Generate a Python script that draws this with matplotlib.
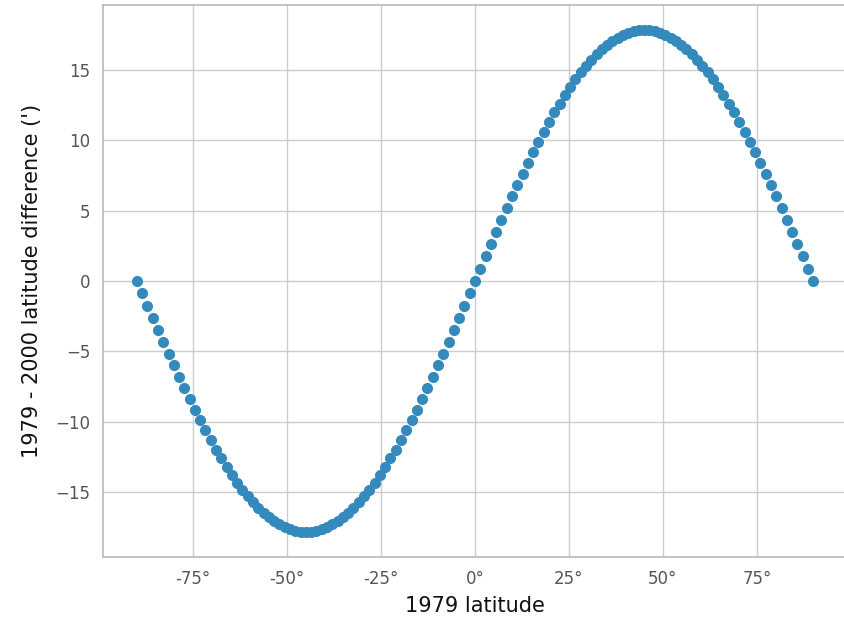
import matplotlib
matplotlib.use("Agg")
import matplotlib.pyplot as plt
from matplotlib.ticker import FuncFormatter

# 1979 latitude (degrees)
lat_neg = [-90, -88.59, -87.19, -85.78, -84.38, -82.97, -81.56, -80.16, -78.75, -77.34,
           -75.94, -74.53, -73.13, -71.72, -70.31, -68.91, -67.5, -66.09, -64.69, -63.28,
           -61.88, -60.47, -59.06, -57.66, -56.25, -54.84, -53.44, -52.03, -50.63, -49.22,
           -47.81, -46.41, -45, -43.59, -42.19, -40.78, -39.38, -37.97, -36.56, -35.16,
           -33.75, -32.34, -30.94, -29.53, -28.13, -26.72, -25.31, -23.91, -22.5, -21.09,
           -19.69, -18.28, -16.88, -15.47, -14.06, -12.66, -11.25, -9.84, -8.44, -7.03,
           -5.63, -4.22, -2.81, -1.41, 0]
lat_pos = [1.41, 2.81, 4.22, 5.63, 7.03, 8.44, 9.84, 11.25, 12.66, 14.06,
           15.47, 16.88, 18.28, 19.69, 21.09, 22.5, 23.91, 25.31, 26.72, 28.13,
           29.53, 30.94, 32.34, 33.75, 35.16, 36.56, 37.97, 39.38, 40.78, 42.19,
           43.59, 45, 46.41, 47.81, 49.22, 50.63, 52.03, 53.44, 54.84, 56.25,
           57.66, 59.06, 60.47, 61.88, 63.28, 64.69, 66.09, 67.5, 68.91, 70.31,
           71.72, 73.13, 74.53, 75.94, 77.34, 78.75, 80.16, 81.56, 82.97, 84.38,
           85.78, 87.19, 88.59, 90]
lat_1979 = lat_neg + lat_pos

# 1979 - 2000 latitude difference (arcmin)
diff_neg = [0, -0.88, -1.75, -2.62, -3.48, -4.34, -5.18, -6.01, -6.83, -7.63,
            -8.41, -9.18, -9.92, -10.63, -11.32, -11.99, -12.62, -13.23, -13.80, -14.34,
            -14.84, -15.31, -15.74, -16.14, -16.49, -16.81, -17.08, -17.32, -17.51, -17.66,
            -17.76, -17.83, -17.85, -17.83, -17.76, -17.66, -17.51, -17.32, -17.08, -16.81,
            -16.49, -16.14, -15.74, -15.31, -14.84, -14.34, -13.80, -13.23, -12.62, -11.99,
            -11.32, -10.63, -9.92, -9.18, -8.41, -7.63, -6.83, -6.01, -5.18, -4.34,
            -3.48, -2.62, -1.75, -0.88, 0]
diff_pos = [0.88, 1.75, 2.62, 3.48, 4.34, 5.18, 6.01, 6.83, 7.63, 8.41,
            9.18, 9.92, 10.63, 11.32, 11.99, 12.62, 13.23, 13.80, 14.34, 14.84,
            15.31, 15.74, 16.14, 16.49, 16.81, 17.08, 17.32, 17.51, 17.66, 17.76,
            17.83, 17.85, 17.83, 17.76, 17.66, 17.51, 17.32, 17.08, 16.81, 16.49,
            16.14, 15.74, 15.31, 14.84, 14.34, 13.80, 13.23, 12.62, 11.99, 11.32,
            10.63, 9.92, 9.18, 8.41, 7.63, 6.83, 6.01, 5.18, 4.34, 3.48,
            2.62, 1.75, 0.88, 0]
lat_diff = diff_neg + diff_pos

x_ticks = [-75, -50, -25, 0, 25, 50, 75]
y_ticks = [-15, -10, -5, 0, 5, 10, 15]

fig = plt.figure(figsize=(8.44, 6.2), dpi=100)
ax = fig.add_axes([0.122, 0.1016, 0.8816, 0.8904])

ax.scatter(lat_1979, lat_diff, s=64, color="#348ABD", linewidths=0, zorder=3)

ax.set_xticks(x_ticks)
ax.set_yticks(y_ticks)
ax.xaxis.set_major_formatter(FuncFormatter(lambda v, p: "%d\u00b0" % v))
ax.grid(True, color="#cccccc", linewidth=1.0, zorder=0)
ax.set_axisbelow(True)
for s in ax.spines.values():
    s.set_color("#bbbbbb")
    s.set_linewidth(1.25)
ax.spines["right"].set_visible(False)
ax.tick_params(length=0, labelsize=12, labelcolor="#555555", pad=9)
ax.set_xlabel("1979 latitude", fontsize=15, color="#111111", labelpad=6)
ax.set_ylabel("1979 - 2000 latitude difference (')", fontsize=15, color="#111111", labelpad=10)

fig.savefig("out.png", dpi=100)
